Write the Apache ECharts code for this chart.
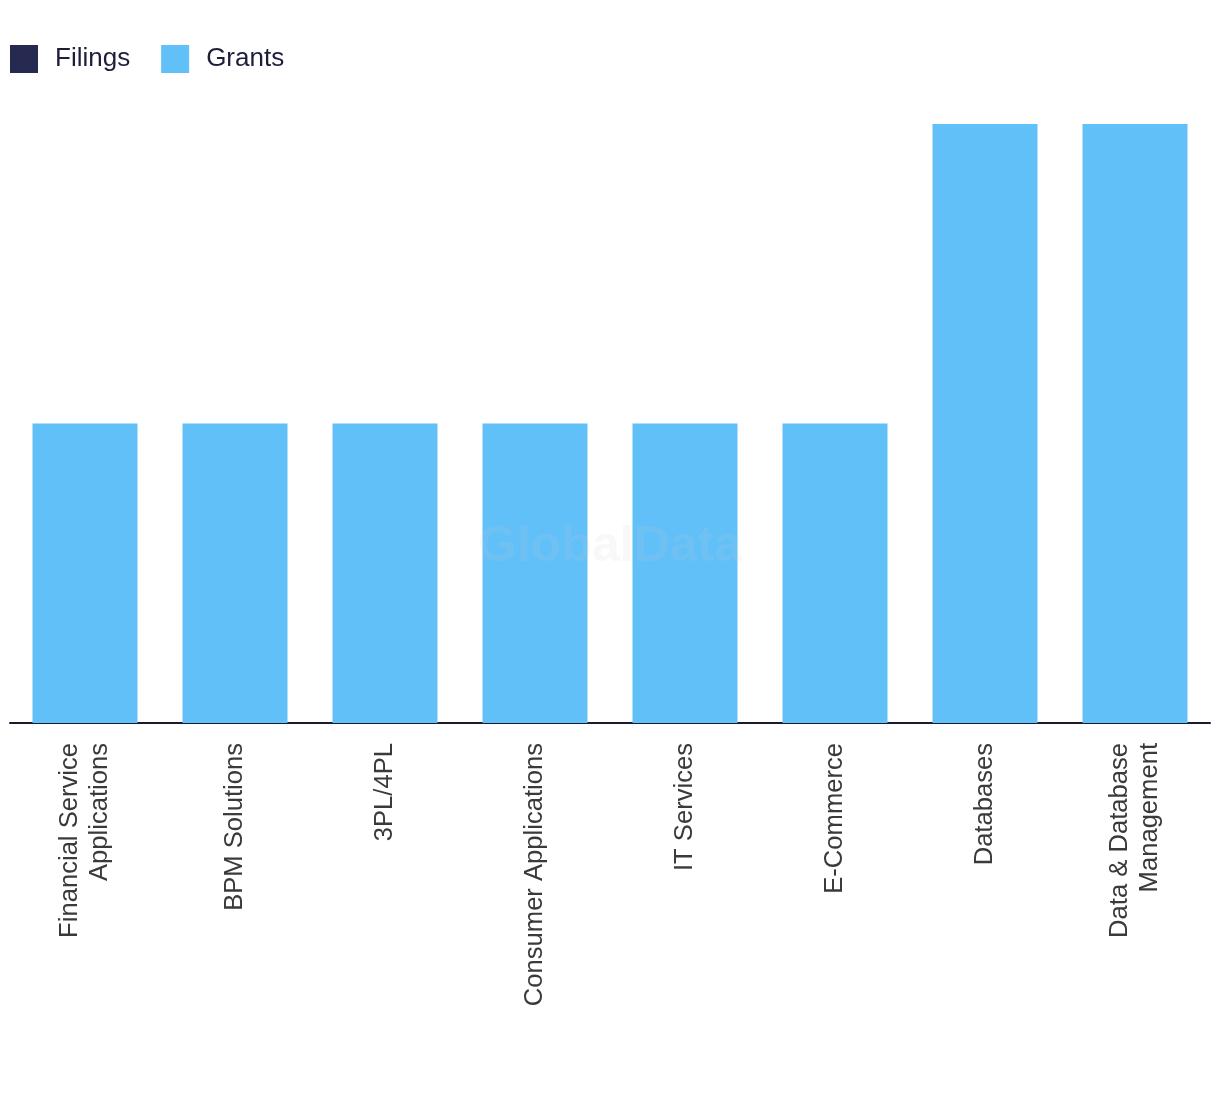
<!DOCTYPE html>
<html><head><meta charset="utf-8">
<script src="https://cdn.jsdelivr.net/npm/echarts@6/dist/echarts.min.js"></script>
<style>html,body{margin:0;padding:0;background:#fff}#c{width:1220px;height:1094px}</style>
</head><body><div id="c"></div>
<script>
const categories = ["Financial Service\nApplications","BPM Solutions","3PL/4PL","Consumer Applications","IT Services","E-Commerce","Databases","Data & Database\nManagement"];
const filings = [0,0,0,0,0,0,0,0];
const grants = [1,1,1,1,1,1,2,2];
const chart = echarts.init(document.getElementById('c'));
chart.setOption({
  animation:false,
  textStyle:{fontFamily:'Liberation Sans'},
  legend:{left:10,top:45,padding:0,itemWidth:28,itemHeight:28,itemGap:31,icon:'rect',
    textStyle:{fontSize:26,color:'#1e1e3a',padding:[0,0,0,12],fontFamily:'Liberation Sans'},
    data:['Filings','Grants']},
  graphic:[{type:'text',x:610,y:547,z:100,silent:true,
    style:{text:'GlobalData',fontSize:50,fontWeight:'bold',fill:'rgba(200,200,210,0.13)',
      textAlign:'center',textVerticalAlign:'middle',fontFamily:'Liberation Sans'}}],
  grid:{left:10,right:10,top:124,bottom:371,containLabel:false},
  xAxis:{type:'category',data:categories,
    axisLine:{lineStyle:{color:'#1a1a2e',width:2}},axisTick:{show:false},
    axisLabel:{rotate:90,margin:20,fontSize:25.6,color:'#3a3a3a',lineHeight:30,interval:0}},
  yAxis:{type:'value',min:0,max:2,show:false,splitLine:{show:false}},
  series:[
    {name:'Filings',type:'bar',stack:'a',data:filings,barWidth:'70%',itemStyle:{color:'#262950'}},
    {name:'Grants',type:'bar',stack:'a',data:grants,barWidth:'70%',itemStyle:{color:'#62c0f8'}}
  ]
});
</script></body></html>
